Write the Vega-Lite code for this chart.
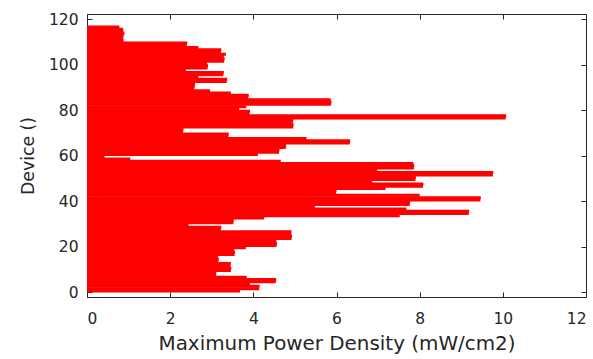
{
  "$schema": "https://vega.github.io/schema/vega-lite/v6.json",
  "width": 499,
  "height": 283,
  "autosize": {"type": "none"},
  "padding": {"left": 87, "top": 14, "right": 7, "bottom": 62},
  "background": "white",
  "data": {
    "values": [
      {"device": 1, "density": 3.68}, {"device": 2, "density": 4.14}, {"device": 3, "density": 4.15},
      {"device": 4, "density": 3.92}, {"device": 5, "density": 4.54}, {"device": 6, "density": 4.55},
      {"device": 7, "density": 3.84}, {"device": 8, "density": 3.1}, {"device": 9, "density": 3.11},
      {"device": 10, "density": 3.46}, {"device": 11, "density": 3.47}, {"device": 12, "density": 3.45},
      {"device": 13, "density": 3.46}, {"device": 14, "density": 3.16}, {"device": 15, "density": 3.17},
      {"device": 16, "density": 3.15}, {"device": 17, "density": 3.55}, {"device": 18, "density": 3.56},
      {"device": 19, "density": 3.54}, {"device": 20, "density": 3.82}, {"device": 21, "density": 4.56},
      {"device": 22, "density": 4.57}, {"device": 23, "density": 4.55}, {"device": 24, "density": 4.92},
      {"device": 25, "density": 4.93}, {"device": 26, "density": 4.91}, {"device": 27, "density": 4.92},
      {"device": 28, "density": 3.22}, {"device": 29, "density": 3.23}, {"device": 30, "density": 2.44},
      {"device": 31, "density": 3.52}, {"device": 32, "density": 3.53}, {"device": 33, "density": 4.26},
      {"device": 34, "density": 7.52}, {"device": 35, "density": 9.18}, {"device": 36, "density": 9.19},
      {"device": 37, "density": 7.68}, {"device": 38, "density": 5.48}, {"device": 39, "density": 7.76},
      {"device": 40, "density": 7.77}, {"device": 41, "density": 9.46}, {"device": 42, "density": 9.47},
      {"device": 43, "density": 8.0}, {"device": 44, "density": 5.99}, {"device": 45, "density": 6.0},
      {"device": 46, "density": 7.18}, {"device": 47, "density": 8.08}, {"device": 48, "density": 8.09},
      {"device": 49, "density": 6.86}, {"device": 50, "density": 7.9}, {"device": 51, "density": 7.91},
      {"device": 52, "density": 9.76}, {"device": 53, "density": 9.77}, {"device": 54, "density": 6.98},
      {"device": 55, "density": 7.86}, {"device": 56, "density": 7.87}, {"device": 57, "density": 7.85},
      {"device": 58, "density": 4.66}, {"device": 59, "density": 1.04}, {"device": 60, "density": 0.42},
      {"device": 61, "density": 4.11}, {"device": 62, "density": 4.62}, {"device": 63, "density": 4.63},
      {"device": 64, "density": 4.78}, {"device": 65, "density": 4.79}, {"device": 66, "density": 6.32},
      {"device": 67, "density": 6.33}, {"device": 68, "density": 5.28}, {"device": 69, "density": 3.4},
      {"device": 70, "density": 3.41}, {"device": 71, "density": 2.31}, {"device": 72, "density": 2.32},
      {"device": 73, "density": 4.96}, {"device": 74, "density": 4.97}, {"device": 75, "density": 4.95},
      {"device": 76, "density": 4.96}, {"device": 77, "density": 10.07}, {"device": 78, "density": 10.08},
      {"device": 79, "density": 3.91}, {"device": 80, "density": 3.92}, {"device": 81, "density": 3.66},
      {"device": 82, "density": 3.83}, {"device": 83, "density": 5.87}, {"device": 84, "density": 5.88},
      {"device": 85, "density": 5.86}, {"device": 86, "density": 3.88}, {"device": 87, "density": 3.89},
      {"device": 88, "density": 3.46}, {"device": 89, "density": 2.96}, {"device": 90, "density": 2.58},
      {"device": 91, "density": 2.59}, {"device": 92, "density": 2.6}, {"device": 93, "density": 3.36},
      {"device": 94, "density": 3.37}, {"device": 95, "density": 2.68}, {"device": 96, "density": 3.28},
      {"device": 97, "density": 3.29}, {"device": 98, "density": 2.38}, {"device": 99, "density": 2.9},
      {"device": 100, "density": 2.91}, {"device": 101, "density": 2.89}, {"device": 102, "density": 3.3},
      {"device": 103, "density": 3.31}, {"device": 104, "density": 3.29}, {"device": 105, "density": 3.34},
      {"device": 106, "density": 3.22}, {"device": 107, "density": 3.23}, {"device": 108, "density": 2.68},
      {"device": 109, "density": 2.4}, {"device": 110, "density": 2.41}, {"device": 111, "density": 0.88},
      {"device": 112, "density": 0.87}, {"device": 113, "density": 0.88}, {"device": 114, "density": 0.9},
      {"device": 115, "density": 0.88}, {"device": 116, "density": 0.87}, {"device": 117, "density": 0.78}
    ]
  },
  "layer": [
    {
      "mark": {"type": "bar", "orient": "horizontal", "color": "#ff0000", "size": 3, "yOffset": 1.18, "clip": true},
      "encoding": {
        "x": {
          "field": "density", "type": "quantitative",
          "scale": {"domain": [0, 12], "nice": false},
          "axis": {"orient": "bottom", "values": [0, 2, 4, 6, 8, 10, 12], "title": "Maximum Power Density (mW/cm2)", "labelPadding": 19, "titlePadding": 7}
        },
        "y": {
          "field": "device", "type": "quantitative",
          "scale": {"domain": [0, 120], "nice": false},
          "axis": {"orient": "left", "values": [0, 20, 40, 60, 80, 100, 120], "title": "Device ()", "labelPadding": 14, "titlePadding": 11}
        }
      }
    },
    {
      "mark": {"type": "point", "opacity": 0},
      "encoding": {
        "x": {
          "field": "density", "type": "quantitative",
          "axis": {"orient": "top", "values": [0, 2, 4, 6, 8, 10, 12], "labels": false, "title": null}
        },
        "y": {
          "field": "device", "type": "quantitative",
          "axis": {"orient": "right", "values": [0, 20, 40, 60, 80, 100, 120], "labels": false, "title": null}
        }
      }
    }
  ],
  "resolve": {"axis": {"x": "independent", "y": "independent"}},
  "config": {
    "view": {"stroke": null},
    "axis": {
      "grid": false,
      "zindex": 1,
      "domainColor": "#262626",
      "domainWidth": 1,
      "tickColor": "#262626",
      "tickWidth": 1,
      "tickSize": -5,
      "labelColor": "#262626",
      "labelFont": "DejaVu Sans",
      "labelFontSize": 15.5,
      "titleColor": "#262626",
      "titleFont": "DejaVu Sans",
      "titleFontSize": 19.9,
      "titleFontWeight": "normal"
    },
    "axisLeft": {"titleFontSize": 17.3}
  }
}
